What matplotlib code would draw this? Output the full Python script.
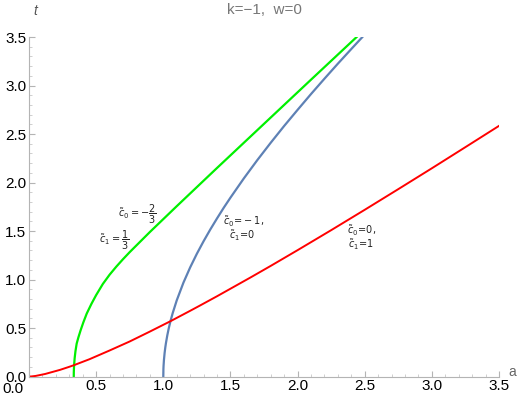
"""Recreate the k=-1, w=0 t(a) curves."""

import matplotlib.pyplot as plt
from matplotlib.ticker import MultipleLocator

# values (a on x, t on y)
green_a = [0.3333, 0.3336, 0.334, 0.336, 0.34, 0.346, 0.355, 0.368, 0.385,
           0.405, 0.43, 0.465, 0.5, 0.55, 0.6, 0.65, 0.7, 0.75, 0.9, 1.1,
           1.4, 1.8, 2.1, 2.44]
green_t = [0.0, 0.041, 0.061, 0.121, 0.19, 0.262, 0.34, 0.405, 0.48,
           0.56, 0.65, 0.75, 0.84, 0.955, 1.05, 1.133, 1.21, 1.283, 1.49, 1.756,
           2.15, 2.67, 3.06, 3.5]

blue_a = [1.0, 1.001, 1.002, 1.005, 1.01, 1.015, 1.02, 1.03, 1.04, 1.055,
          1.07, 1.1, 1.15, 1.2, 1.25, 1.3, 1.35, 1.4, 1.45, 1.5, 1.6, 1.7,
          1.8, 1.9, 2.0, 2.1, 2.2, 2.3, 2.4, 2.483]
blue_t = [0.0, 0.078, 0.110, 0.173, 0.245, 0.301, 0.347, 0.426, 0.493, 0.579,
          0.654, 0.785, 0.968, 1.125, 1.266, 1.395, 1.516, 1.630, 1.740, 1.844,
          2.043, 2.231, 2.410, 2.583, 2.749, 2.912, 3.070, 3.225, 3.376, 3.5]

red_a = [0.0, 0.02, 0.05, 0.12, 0.23, 0.3, 0.335, 0.45, 0.6, 0.75, 0.9, 1.055,
         1.2, 1.27, 1.4, 1.65, 1.8, 2.0, 2.25, 2.5, 2.75, 3.0, 3.25, 3.5]
red_t = [0.0, 0.002, 0.007, 0.027, 0.069, 0.101, 0.118, 0.179, 0.269, 0.362,
         0.464, 0.572, 0.678, 0.730, 0.828, 1.022, 1.141, 1.303, 1.509, 1.719,
         1.932, 2.147, 2.365, 2.584]

fig = plt.figure(figsize=(5.19, 3.95), dpi=100)
ax = fig.add_axes([29 / 519, 18.4 / 395, 470 / 519, 339.6 / 395])

ax.plot(green_a, green_t, color="#00f000", lw=1.6, solid_joinstyle="round")
ax.plot(blue_a, blue_t, color="#5e81b5", lw=1.6, solid_joinstyle="round")
ax.plot(red_a, red_t, color="#ff0000", lw=1.4, solid_joinstyle="round")

ax.set_xlim(0, 3.5)
ax.set_ylim(0, 3.5)
for s in ("top", "right"):
    ax.spines[s].set_visible(False)
for s in ("left", "bottom"):
    ax.spines[s].set_color("#b4b4b4")
    ax.spines[s].set_linewidth(0.8)

ax.xaxis.set_major_locator(MultipleLocator(0.5))
ax.xaxis.set_minor_locator(MultipleLocator(0.1))
ax.yaxis.set_major_locator(MultipleLocator(0.5))
ax.yaxis.set_minor_locator(MultipleLocator(0.1))
# the x origin label is drawn separately, left of the axis as in the reference
ax.xaxis.set_major_formatter(lambda v, p: "" if abs(v) < 1e-9 else f"{v:.1f}")
ax.yaxis.set_major_formatter(lambda v, p: f"{v:.1f}")
ax.tick_params(which="major", direction="in", length=4, width=0.8,
               color="#b4b4b4", labelsize=11, pad=2)
ax.tick_params(which="minor", direction="in", length=2.5, width=0.6,
               color="#c8c8c8")
for lbl in ax.get_xticklabels() + ax.get_yticklabels():
    lbl.set_fontfamily("Liberation Sans")

fig.text(12.5 / 519, 1 - 389 / 395, "0.0", ha="center", va="center",
         fontsize=11, family="Liberation Sans")
fig.text(0.51, 1 - 10 / 395, "k=\u22121,  w=0", ha="center", va="center",
         fontsize=11, color="#777777", family="Liberation Sans")
fig.text(33 / 519, 1 - 11 / 395, "t", ha="left", va="center",
         fontsize=10, style="italic", color="#555555", family="Liberation Sans")
fig.text(508 / 519, 1 - 372 / 395, "a", ha="left", va="center",
         fontsize=10, color="#666666", family="Liberation Sans")

lab = dict(fontsize=7, ha="center", va="center", color="#222222")
ax.text(0.804, 1.671, r"$\tilde{c}_0=-\dfrac{2}{3}$", **lab)
ax.text(0.633, 1.405, r"$\tilde{c}_1=\dfrac{1}{3}$", **lab)
ax.text(1.6, 1.595, r"$\tilde{c}_0\!=\!-1,$", **lab)
ax.text(1.586, 1.455, r"$\tilde{c}_1\!=\!0$", **lab)
ax.text(2.48, 1.50, r"$\tilde{c}_0\!=\!0,$", **lab)
ax.text(2.47, 1.36, r"$\tilde{c}_1\!=\!1$", **lab)

fig.savefig("out.png", dpi=100)
